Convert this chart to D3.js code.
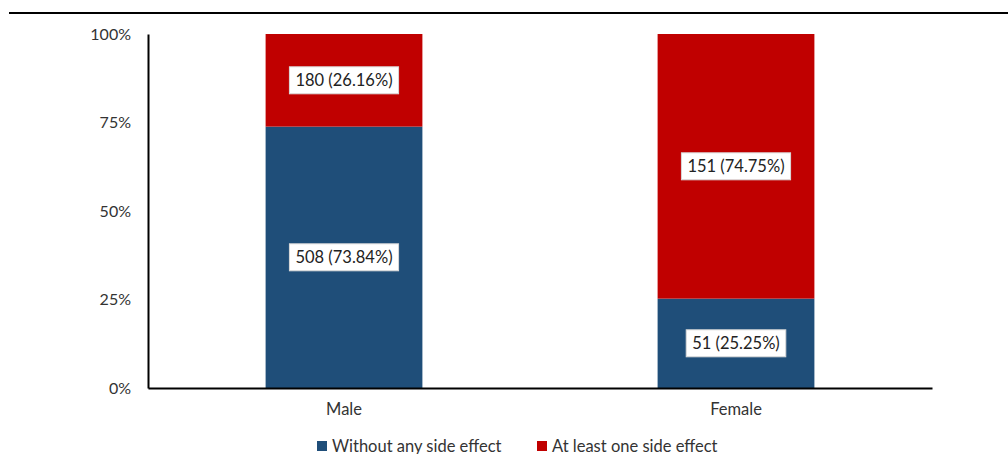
<!DOCTYPE html>
<html><head><meta charset="utf-8">
<script src="https://cdn.jsdelivr.net/npm/d3@7"></script>
<style>body{margin:0;background:#fff}svg{display:block}text{font-family:Lato,"Open Sans",sans-serif;fill:#333}</style>
</head><body><svg id="c" width="1008" height="454"></svg>
<script>
const categories = ["Male", "Female"];
const seriesNames = ["Without any side effect", "At least one side effect"];
const withoutCounts = [508, 51];
const withoutPct = [73.84, 25.25];
const atLeastCounts = [180, 151];
const atLeastPct = [26.16, 74.75];
const yTicks = [0, 25, 50, 75, 100];
const colors = ["#1F4E79", "#C00000"];

const svg = d3.select("#c");
const m = {left:148, right:76, top:34, bottom:66};
const W = 1008, H = 454;
const x = d3.scaleBand().domain(categories).range([m.left, W - m.right]).paddingInner(0.6).paddingOuter(0.3);
const y = d3.scaleLinear().domain([0,100]).range([H - m.bottom, m.top]);

// top rule
svg.append("line").attr("x1",9).attr("x2",1008).attr("y1",13).attr("y2",13).attr("stroke","#000").attr("stroke-width",2);

const rows = categories.map((c,i)=>({cat:c, segs:[
  {s:0, y0:0, y1:withoutPct[i], n:withoutCounts[i], p:withoutPct[i]},
  {s:1, y0:withoutPct[i], y1:100, n:atLeastCounts[i], p:atLeastPct[i]}
]}));

const g = svg.append("g");
rows.forEach(r=>{
  r.segs.forEach(sg=>{
    g.append("rect").attr("x",x(r.cat)).attr("width",x.bandwidth())
      .attr("y",y(sg.y1)).attr("height",y(sg.y0)-y(sg.y1)).attr("fill",colors[sg.s]);
  });
});
rows.forEach(r=>{
  r.segs.forEach(sg=>{
    const cx = x(r.cat)+x.bandwidth()/2, cy=(y(sg.y0)+y(sg.y1))/2;
    const lg = g.append("g");
    const rect = lg.append("rect").attr("fill","#fff").attr("stroke","#d9d9d9").attr("stroke-width",1);
    const t = lg.append("text").attr("x",cx).attr("y",cy).attr("text-anchor","middle").attr("dominant-baseline","central")
      .style("font-size","16.5px").style("fill","#222").text(`${sg.n} (${sg.p.toFixed(2)}%)`);
    const w = t.node().getComputedTextLength();
    rect.attr("x",cx-w/2-6).attr("y",cy-13.5).attr("width",w+12).attr("height",27);
  });
});

// y axis
const ya = svg.append("g").attr("transform",`translate(${m.left},0)`)
  .call(d3.axisLeft(y).tickValues(yTicks).tickFormat(d=>d+"%").tickSize(0).tickPadding(17));
ya.select(".domain").attr("stroke","#000").attr("stroke-width",2);
ya.selectAll("text").style("font-size","16px").style("fill","#333").style("font-family","Lato,sans-serif");

// x axis
const xa = svg.append("g").attr("transform",`translate(0,${H-m.bottom})`)
  .call(d3.axisBottom(x).tickSize(0).tickPadding(15));
xa.select(".domain").attr("stroke","#000").attr("stroke-width",2);
xa.selectAll("text").style("font-size","16.5px").style("fill","#333").style("font-family","Lato,sans-serif");

// legend
const legX = [317, 537];
seriesNames.forEach((s,i)=>{
  svg.append("rect").attr("x",legX[i]).attr("y",441).attr("width",10).attr("height",10).attr("fill",colors[i]);
  svg.append("text").attr("x",legX[i]+15).attr("y",445.5).attr("dominant-baseline","central")
    .style("font-size","16.5px").style("fill","#333").text(s);
});
</script></body></html>
